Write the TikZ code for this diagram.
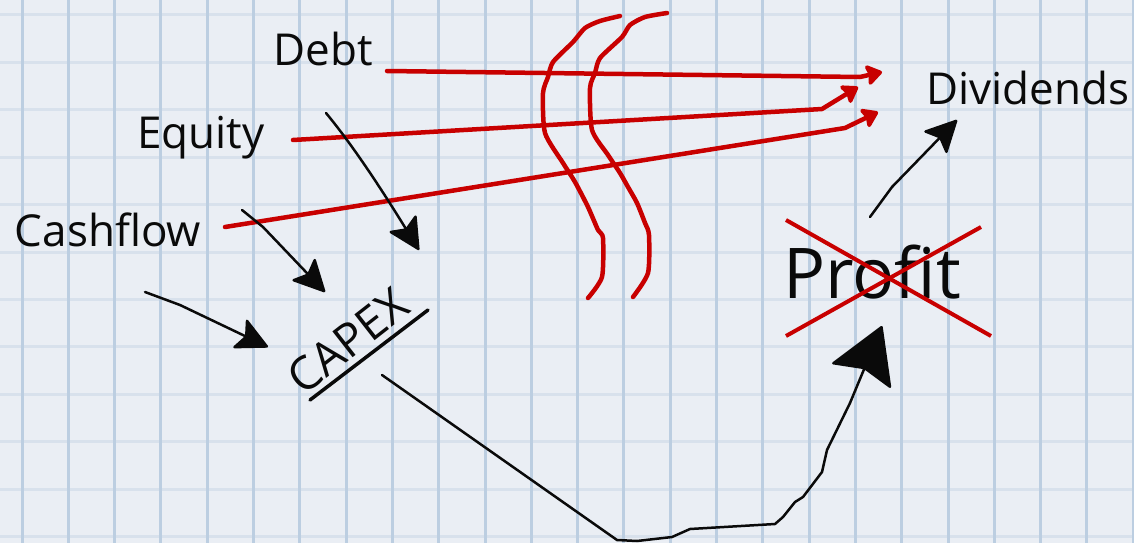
\documentclass[tikz,border=0pt]{standalone}
\usepackage{fontspec}
\setmainfont{Open Sans}
\usetikzlibrary{arrows.meta}
\definecolor{paper}{RGB}{234,238,244}
\definecolor{gridv}{RGB}{188,206,225}
\definecolor{gridh}{RGB}{216,225,236}
\definecolor{marker}{RGB}{200,0,0}
\definecolor{ink}{RGB}{10,10,10}

\begin{document}
\begin{tikzpicture}[x=1pt, y=-1pt,
    hand/.style={inner sep=0pt, text=ink, font=\fontsize{44}{48}\selectfont},
    inkline/.style={draw=ink, line width=2.5pt, line cap=round, line join=round},
    inkarrow/.style={inkline, -{Stealth[length=34pt,width=34pt,inset=7pt,round]}},
    bigarrow/.style={inkline, -{Stealth[length=56pt,width=66pt,inset=8pt,round]}},
    redline/.style={draw=marker, line width=4.5pt, line cap=round, line join=round},
    redarrow/.style={redline, -{Stealth[length=18pt,width=24pt,inset=3pt,round]}},
    cross/.style={draw=marker, line width=4pt},
    vline/.style={draw=gridv, line width=3pt},
    hline/.style={draw=gridh, line width=3pt}
]
\useasboundingbox (0,0) rectangle (1134,543);

% squared paper
\fill[paper] (0,0) rectangle (1134,543);
\foreach \k in {0,...,11}
  \draw[hline] (0,{15+47.4*\k}) -- (1134,{15+47.4*\k});
\foreach \k in {0,...,24}
  \draw[vline] ({22+46.3*\k},0) -- ({22+46.3*\k},543);

% words
\node[hand, anchor=base] (debt) at (323,66) {Debt};
\node[hand, anchor=base] (equity) at (201,148) {Equity};
\node[hand, anchor=base] (cashflow) at (108,246) {Cashflow};
\node[hand, anchor=base] (dividends) at (1028,104) {Dividends};
\node[hand, anchor=base, font=\fontsize{70}{76}\selectfont] (profit) at (872,298) {Profit};
\node[hand, anchor=base, rotate=38, font=\fontsize{46}{50}\selectfont] (capex) at (358,354) {CAPEX};
\draw[inkline, line width=3.5pt] ([shift={(-48,46)}]capex.base) -- ([shift={(70,-44)}]capex.base);

% blocked payouts
\draw[redarrow] ([shift={(64,5)}]debt.base) -- (860,77) -- ([shift={(-146,-32)}]dividends.base);
\draw[redarrow] ([shift={(92,-8)}]equity.base) -- (822,109) -- ([shift={(-170,-17)}]dividends.base);
\draw[redarrow] ([shift={(117,-19)}]cashflow.base) -- (845,128) -- ([shift={(-150,8)}]dividends.base);

\draw[redline] plot[smooth, tension=0.4] coordinates {(620,16) (600,21) (585,28) (573,42) (553,62) (548,77) (543,93) (545,133) (563,163) (575,182) (588,207) (598,230) (603,238) (602,277) (588,298)};
\draw[redline] plot[smooth, tension=0.4] coordinates {(667,13) (645,17) (630,25) (622,37) (600,58) (595,73) (590,88) (592,130) (608,155) (620,173) (628,187) (637,203) (645,223) (649,235) (648,273) (633,297)};

% funding goes into capex
\draw[inkarrow] ([shift={(3,47)}]debt.base) .. controls (355,148) and (385,195) .. ([shift={(61,-104)}]capex.base);
\draw[inkarrow] ([shift={(41,62)}]equity.base) -- (263,227) -- ([shift={(-33,-62)}]capex.base);
\draw[inkarrow] ([shift={(37,46)}]cashflow.base) -- (180,305) -- ([shift={(-90,-7)}]capex.base);

% capex -> profit -> dividends
\draw[bigarrow] ([shift={(24,21)}]capex.base) -- (617,540) -- (637,541) -- (672,537) -- (690,529) -- (775,524) -- (783,517) -- (795,502) -- (803,497) -- (822,472) -- (827,450) -- (850,403) -- ([shift={(10,28)}]profit.base);
\draw[inkarrow] ([shift={(-2,-81)}]profit.base) -- (892,187) -- ([shift={(-71,16)}]dividends.base);

\draw[cross] ([shift={(-86,-78)}]profit.base) -- ([shift={(119,38)}]profit.base);
\draw[cross] ([shift={(-86,38)}]profit.base) -- ([shift={(109,-71)}]profit.base);

\end{tikzpicture}
\end{document}
